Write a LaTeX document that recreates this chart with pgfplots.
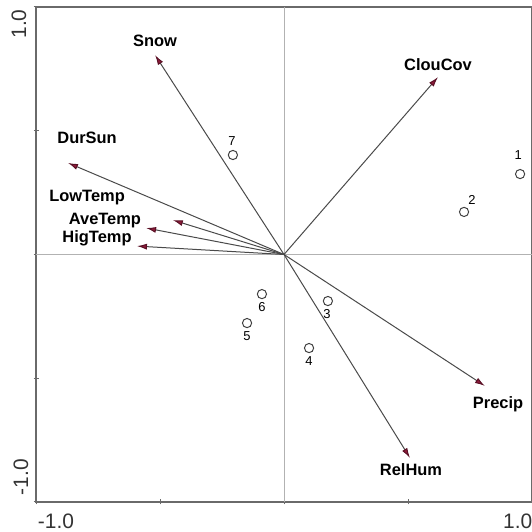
\documentclass[border=0pt]{standalone}
\usepackage{pgfplots}
\pgfplotsset{compat=1.18}
\usepackage{fontspec}
\setmainfont{Liberation Sans}
\usetikzlibrary{arrows.meta}
\definecolor{arrowred}{HTML}{8E1B3A}
\definecolor{arrowedge}{HTML}{5A1025}
\definecolor{linegray}{HTML}{4A4A4A}
\definecolor{axgray}{HTML}{6A6A6A}
\begin{document}
\begin{tikzpicture}
\useasboundingbox (0,0) rectangle (532bp,532bp);
\begin{axis}[
  at={(36bp,30bp)}, anchor=south west,
  scale only axis, width=496bp, height=495bp,
  xmin=-1, xmax=1, ymin=-1, ymax=1,
  axis line style={draw=axgray, line width=1.3bp},
  xtick={-1,-0.5,0,0.5,1}, ytick={-1,-0.5,0,0.5,1},
  xticklabels={}, yticklabels={},
  xtick pos=bottom, ytick pos=left,
  tick align=center, major tick length=5bp,
  tick style={draw=axgray, line width=1bp},
  clip=false,
  every node/.append style={text=black!85},
]
% zero lines
\addplot[draw=black!30, line width=0.5bp] coordinates {(0,-1) (0,1)};
\addplot[draw=black!30, line width=0.5bp] coordinates {(-1,0) (1,0)};
% arrows
\pgfplotsset{vec/.style={draw=linegray, line width=1bp, -{Latex[length=10bp,width=6bp,color=arrowedge,fill=arrowred]}}}
\addplot[vec] coordinates {(0,0) (-0.520,0.806)};
\addplot[vec] coordinates {(0,0) (-0.871,0.370)};
\addplot[vec] coordinates {(0,0) (-0.448,0.139)};
\addplot[vec] coordinates {(0,0) (-0.556,0.107)};
\addplot[vec] coordinates {(0,0) (-0.593,0.034)};
\addplot[vec] coordinates {(0,0) (0.621,0.717)};
\addplot[vec] coordinates {(0,0) (0.810,-0.531)};
\addplot[vec] coordinates {(0,0) (0.508,-0.822)};
% sites
\addplot[only marks, mark=o, mark size=4.6bp, draw=black!75, line width=1bp, mark options={fill=white}] coordinates {
 (0.952,0.325) (0.726,0.172) (0.177,-0.188) (0.101,-0.378) (-0.149,-0.277) (-0.089,-0.160) (-0.206,0.402)};
% variable labels
\node[font=\bfseries\fontsize{16.5}{18}\selectfont] at (axis cs:-0.520,0.863) {Snow};
\node[font=\bfseries\fontsize{16.5}{18}\selectfont] at (axis cs:-0.794,0.471) {DurSun};
\node[font=\bfseries\fontsize{16.5}{18}\selectfont] at (axis cs:-0.794,0.232) {LowTemp};
\node[font=\bfseries\fontsize{16.5}{18}\selectfont] at (axis cs:-0.722,0.139) {AveTemp};
\node[font=\bfseries\fontsize{16.5}{18}\selectfont] at (axis cs:-0.754,0.067) {HigTemp};
\node[font=\bfseries\fontsize{16.5}{18}\selectfont] at (axis cs:0.621,0.766) {ClouCov};
\node[font=\bfseries\fontsize{16.5}{18}\selectfont] at (axis cs:0.863,-0.604) {Precip};
\node[font=\bfseries\fontsize{16.5}{18}\selectfont] at (axis cs:0.512,-0.871) {RelHum};
% site labels
\node[font=\fontsize{13}{15}\selectfont] at (axis cs:0.944,0.402) {1};
\node[font=\fontsize{13}{15}\selectfont] at (axis cs:0.758,0.220) {2};
\node[font=\fontsize{13}{15}\selectfont] at (axis cs:0.173,-0.240) {3};
\node[font=\fontsize{13}{15}\selectfont] at (axis cs:0.101,-0.430) {4};
\node[font=\fontsize{13}{15}\selectfont] at (axis cs:-0.149,-0.329) {5};
\node[font=\fontsize{13}{15}\selectfont] at (axis cs:-0.089,-0.212) {6};
\node[font=\fontsize{13}{15}\selectfont] at (axis cs:-0.210,0.459) {7};
\end{axis}
% axis tick labels
\node[font=\fontsize{21}{23}\selectfont, text=black!80, inner sep=0pt] at (56bp,11bp) {-1.0};
\node[font=\fontsize{21}{23}\selectfont, text=black!80, inner sep=0pt, anchor=west] at (503bp,11bp) {1.0};
\node[font=\fontsize{21}{23}\selectfont, text=black!80, inner sep=0pt, rotate=90] at (19bp,508bp) {1.0};
\node[font=\fontsize{21}{23}\selectfont, text=black!80, inner sep=0pt, rotate=90] at (21bp,55bp) {-1.0};
\end{tikzpicture}
\end{document}
